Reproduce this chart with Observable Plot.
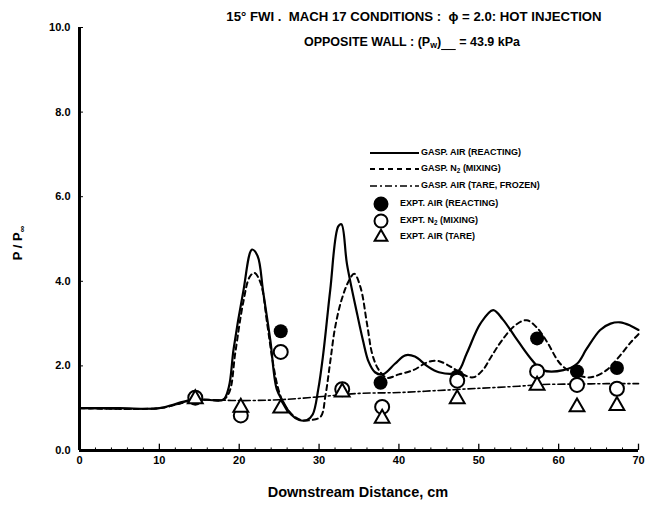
<!DOCTYPE html>
<html><head><meta charset="utf-8">
<script src="https://cdn.jsdelivr.net/npm/d3@7"></script>
<script src="https://cdn.jsdelivr.net/npm/@observablehq/plot@0.6"></script>
<style>
body{margin:0;background:#fff;font-family:"Liberation Sans",Arial,sans-serif;font-weight:bold;color:#000;}
#wrap{position:relative;width:649px;height:505px;overflow:hidden;}
.t{position:absolute;white-space:nowrap;line-height:1;}
.t sub{font-size:70%;vertical-align:-0.25em;}
</style></head><body><div id="wrap"></div>
<script>
// GASP. AIR (REACTING) - solid
const airReactX = [0,5,10,12,14,16,18,18.7,19.3,20.5,21.6,22.3,23,23.9,24.7,25.5,26.5,27.5,28.5,29.2,29.9,30.5,31.4,32.4,32.8,33.5,34.8,35.5,36.2,37,38,39.5,40.8,42,43.5,45,47.3,48.5,50.2,51.8,53,54.5,56.4,58,60.6,62.3,63.5,65.2,66.5,67.7,69,70];
const airReactV = [1.0,1.0,1.0,1.1,1.2,1.2,1.2,1.5,2.4,3.75,4.75,4.6,3.75,2.6,1.45,1.15,0.85,0.72,0.72,0.85,1.45,2.25,3.8,5.3,5.35,4.4,3.2,2.6,2.1,1.85,1.8,2.05,2.25,2.22,2.0,1.85,1.85,2.3,3.0,3.32,3.1,2.7,2.2,1.9,1.9,2.05,2.4,2.85,3.0,3.03,2.95,2.85];
// GASP. N2 (MIXING) - dashed
const n2MixX = [0,10,12,14,16,18,18.8,19.5,20.5,21.3,21.9,22.7,23.5,24.2,24.9,25.6,26.8,27.8,29,30.2,30.8,31.4,32,32.8,33.7,34.4,35.2,36,36.7,37.5,38.5,40,41.8,43.5,44.8,46.5,48,49.3,50.5,51.5,52.7,54.5,56,57.3,58.6,60.2,61.9,63.5,64.5,66,67.5,69,70];
const n2MixV = [1.0,1.0,1.08,1.18,1.2,1.2,1.4,2.3,3.5,4.1,4.2,3.95,3.0,2.1,1.45,1.1,0.82,0.72,0.72,0.8,1.3,2.1,2.9,3.55,4.0,4.18,3.85,3.0,2.25,1.9,1.72,1.8,1.9,2.08,2.12,1.98,1.8,1.73,1.9,2.2,2.55,2.95,3.08,2.9,2.55,2.05,1.82,1.73,1.75,1.9,2.2,2.55,2.75];
// GASP. AIR (TARE, FROZEN) - dash-dot
const tareX = [0,10,12,14.3,16,20,25,30,35,40,45,50,55,58,62,66,70];
const tareV = [1.0,1.0,1.08,1.2,1.2,1.18,1.2,1.27,1.35,1.37,1.42,1.47,1.52,1.56,1.57,1.58,1.58];
// EXPT. AIR (REACTING) - filled circles
const exptReactX = [25.2,37.7,47.3,57.3,62.3,67.3];
const exptReactV = [2.82,1.6,1.75,2.65,1.87,1.95];
// EXPT. N2 (MIXING) - open circles
const exptMixX = [14.5,20.2,25.2,32.9,37.9,47.3,57.3,62.3,67.3];
const exptMixV = [1.25,0.83,2.33,1.45,1.03,1.65,1.87,1.55,1.46];
// EXPT. AIR (TARE) - triangles
const exptTareX = [14.5,20.2,25.2,32.9,37.9,47.3,57.3,62.3,67.3];
const exptTareV = [1.22,1.02,1.0,1.38,0.76,1.22,1.54,1.03,1.06];
// axis ticks
const xTicks = [0,10,20,30,40,50,60,70];
const xMinor = [2,4,6,8,12,14,16,18,22,24,26,28,32,34,36,38,42,44,46,48,52,54,56,58,62,64,66,68];
const yTicks = [0,2,4,6,8,10];
const yTickLabels = ["0.0","2.0","4.0","6.0","8.0","10.0"];

const zip = (xs, vs) => xs.map((x, i) => ({x, v: vs[i]}));
const airReact = zip(airReactX, airReactV);
const n2Mix = zip(n2MixX, n2MixV);
const tare = zip(tareX, tareV);
const exptReact = zip(exptReactX, exptReactV);
const exptMix = zip(exptMixX, exptMixV);
const exptTare = zip(exptTareX, exptTareV);

const plot = Plot.plot({
  width: 649, height: 505,
  marginLeft: 79, marginRight: 11, marginTop: 27, marginBottom: 55,
  style: {fontFamily: '"Liberation Sans", Arial, sans-serif', fontWeight: "bold", fontSize: "11px", background: "white", color: "black"},
  x: {domain: [0, 70]},
  y: {domain: [0, 10]},
  marks: [
    Plot.axisX({ticks: xTicks, tickSize: 0, tickPadding: 6, label: null, fontSize: 11}),
    Plot.axisY({ticks: yTicks, tickSize: 0, tickPadding: 9, label: null, fontSize: 11, tickFormat: (d) => yTickLabels[yTicks.indexOf(d)]}),
    Plot.ruleX(xTicks.slice(1), {y1: 0, y2: 0.15, strokeWidth: 1.3}),
    Plot.ruleX(xMinor, {y1: 0, y2: 0.06, strokeWidth: 1}),
    Plot.ruleY(yTicks.slice(1), {x1: 0, x2: 0.5, strokeWidth: 1}),
    Plot.line(tare, {x: "x", y: "v", curve: "catmull-rom", strokeWidth: 1.6, strokeDasharray: "7,3,2,3"}),
    Plot.line(n2Mix, {x: "x", y: "v", curve: "catmull-rom", strokeWidth: 2, strokeDasharray: "5,4"}),
    Plot.line(airReact, {x: "x", y: "v", curve: "catmull-rom", strokeWidth: 2.2}),
    Plot.dot(exptReact, {x: "x", y: "v", r: 7, fill: "black"}),
    Plot.dot(exptMix, {x: "x", y: "v", r: 7, fill: "white", stroke: "black", strokeWidth: 2}),
    Plot.dot(exptTare, {x: "x", y: "v", symbol: "triangle", r: 5.5, fill: "white", stroke: "black", strokeWidth: 2}),
    Plot.ruleX([0], {strokeWidth: 3}),
    Plot.ruleY([0], {strokeWidth: 3})
  ]
});
const wrap = document.getElementById("wrap");
wrap.appendChild(plot);

function addText(html, left, top, size, extra) {
  const d = document.createElement("div");
  d.className = "t";
  d.innerHTML = html;
  d.style.left = left + "px";
  d.style.top = top + "px";
  d.style.fontSize = size + "px";
  if (extra) Object.assign(d.style, extra);
  wrap.appendChild(d);
  return d;
}
// titles
addText("15° FWI .&nbsp; MACH 17 CONDITIONS :&nbsp; ϕ = 2.0: HOT INJECTION", 414, 17, 13.2, {transform: "translate(-50%,-50%)"});
addText("OPPOSITE WALL : (P<sub>w</sub>)<sub style=\"text-decoration:underline\">&nbsp;&nbsp;&nbsp;&nbsp;&nbsp;&nbsp;</sub> = 43.9 kPa", 412, 43, 12.5, {transform: "translate(-50%,-50%)"});
addText("Downstream Distance, cm", 358, 492, 14.5, {transform: "translate(-50%,-50%)"});
addText("P / P<sub>∞</sub>", 19, 243, 13, {transform: "translate(-50%,-50%) rotate(-90deg)"});

// legend
const legendItems = [
  {label: "GASP. AIR (REACTING)", kind: "line", dash: null, w: 2.2, y: 153},
  {label: "GASP. N<sub>2</sub> (MIXING)", kind: "line", dash: "5,4", w: 2, y: 169},
  {label: "GASP. AIR (TARE, FROZEN)", kind: "line", dash: "7,3,2,3", w: 1.6, y: 186},
  {label: "EXPT. AIR (REACTING)", kind: "filled", y: 204},
  {label: "EXPT. N<sub>2</sub> (MIXING)", kind: "open", y: 221},
  {label: "EXPT. AIR (TARE)", kind: "tri", y: 237}
];
const ns = "http://www.w3.org/2000/svg";
const lsvg = document.createElementNS(ns, "svg");
lsvg.setAttribute("width", 649); lsvg.setAttribute("height", 505);
lsvg.style.position = "absolute"; lsvg.style.left = "0"; lsvg.style.top = "0"; lsvg.style.pointerEvents = "none";
wrap.appendChild(lsvg);
for (const it of legendItems) {
  let el;
  if (it.kind === "line") {
    el = document.createElementNS(ns, "line");
    el.setAttribute("x1", 370); el.setAttribute("x2", 419);
    el.setAttribute("y1", it.y); el.setAttribute("y2", it.y);
    el.setAttribute("stroke", "black"); el.setAttribute("stroke-width", it.w);
    if (it.dash) el.setAttribute("stroke-dasharray", it.dash);
    addText(it.label, 421, it.y - 5, 9);
  } else if (it.kind === "tri") {
    el = document.createElementNS(ns, "path");
    el.setAttribute("d", d3.symbol(d3.symbolTriangle, 70)());
    el.setAttribute("transform", `translate(381,${it.y})`);
    el.setAttribute("fill", "white"); el.setAttribute("stroke", "black"); el.setAttribute("stroke-width", 2);
    addText(it.label, 400, it.y - 5, 9);
  } else {
    el = document.createElementNS(ns, "circle");
    el.setAttribute("cx", 381); el.setAttribute("cy", it.y); el.setAttribute("r", 6.5);
    el.setAttribute("fill", it.kind === "filled" ? "black" : "white");
    el.setAttribute("stroke", "black"); el.setAttribute("stroke-width", 2);
    addText(it.label, 400, it.y - 5, 9);
  }
  lsvg.appendChild(el);
}
</script></body></html>
